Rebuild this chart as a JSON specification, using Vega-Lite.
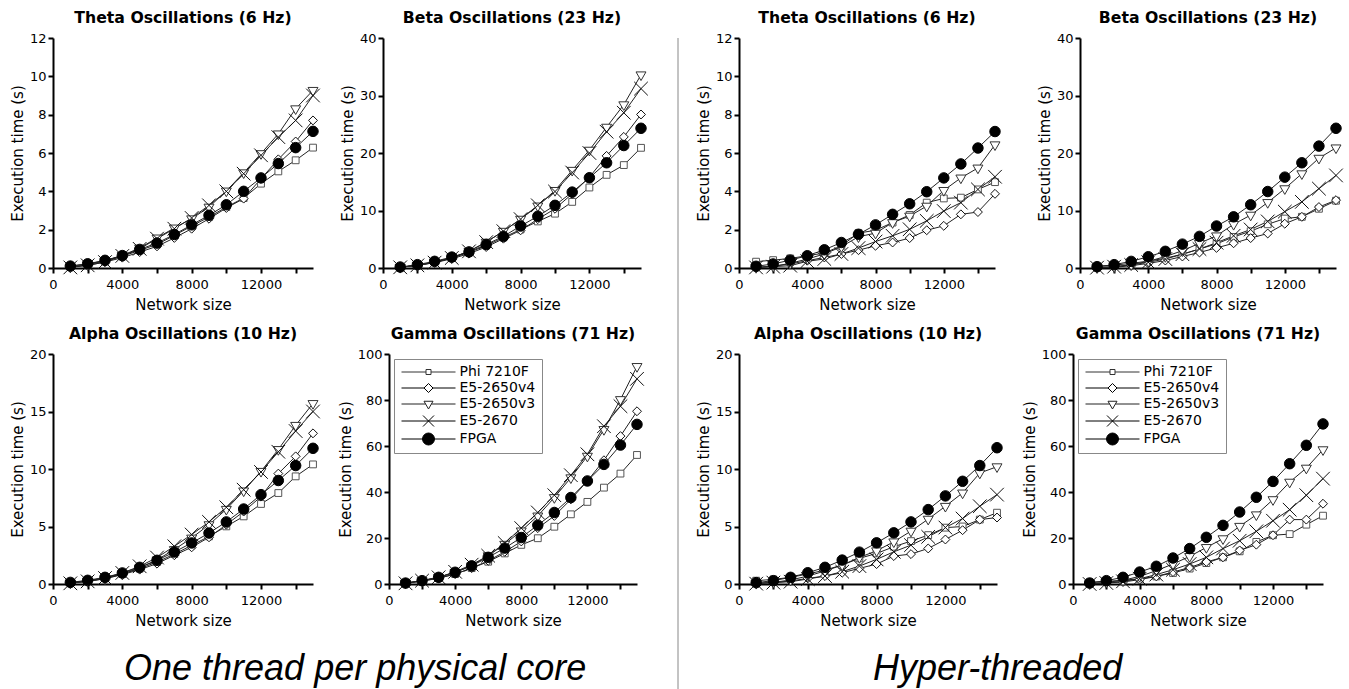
{
 "$schema": "https://vega.github.io/schema/vega-lite/v6.json",
 "padding": {"left": 10, "top": 10, "right": 0, "bottom": 0},
 "background": "white",
 "spacing": 17,
 "config": {
  "font": "DejaVu Sans",
  "view": {"stroke": null},
  "axis": {"domainColor": "black", "domainWidth": 2, "tickColor": "black", "tickWidth": 2, "tickSize": 5, "labelFont": "DejaVu Sans", "labelFontSize": 13, "labelColor": "black", "titleFont": "DejaVu Sans", "titleFontSize": 15, "titleFontWeight": "normal", "titleColor": "black", "grid": false, "labelFlush": false, "labelOverlap": false},
  "axisX": {"labelPadding": 5, "titlePadding": 6},
  "axisY": {"labelPadding": 2, "titlePadding": 4},
  "title": {"font": "DejaVu Sans", "fontSize": 15.7, "fontWeight": "bold", "color": "black", "offset": 5, "anchor": "middle"},
  "style": {"panel": {"font": "DejaVu Sans", "fontSize": 15.7, "fontWeight": "bold", "fill": "black"}}
 },
 "datasets": {
  "series_list": [{"series":"Phi 7210F"},{"series":"E5-2650v4"},{"series":"E5-2650v3"},{"series":"E5-2670"},{"series":"FPGA"}],
  "LT": [
{"series":"Phi 7210F","size":1000,"time":0.1},{"series":"Phi 7210F","size":2000,"time":0.21},{"series":"Phi 7210F","size":3000,"time":0.38},{"series":"Phi 7210F","size":4000,"time":0.61},{"series":"Phi 7210F","size":5000,"time":0.92},{"series":"Phi 7210F","size":6000,"time":1.23},{"series":"Phi 7210F","size":7000,"time":1.7},{"series":"Phi 7210F","size":8000,"time":2.19},{"series":"Phi 7210F","size":9000,"time":2.66},{"series":"Phi 7210F","size":10000,"time":3.18},{"series":"Phi 7210F","size":11000,"time":3.65},{"series":"Phi 7210F","size":12000,"time":4.4},{"series":"Phi 7210F","size":13000,"time":5.04},{"series":"Phi 7210F","size":14000,"time":5.62},{"series":"Phi 7210F","size":15000,"time":6.28},
{"series":"E5-2650v4","size":1000,"time":0.05},{"series":"E5-2650v4","size":2000,"time":0.14},{"series":"E5-2650v4","size":3000,"time":0.31},{"series":"E5-2650v4","size":4000,"time":0.54},{"series":"E5-2650v4","size":5000,"time":0.83},{"series":"E5-2650v4","size":6000,"time":1.13},{"series":"E5-2650v4","size":7000,"time":1.57},{"series":"E5-2650v4","size":8000,"time":2.05},{"series":"E5-2650v4","size":9000,"time":2.57},{"series":"E5-2650v4","size":10000,"time":3.13},{"series":"E5-2650v4","size":11000,"time":3.62},{"series":"E5-2650v4","size":12000,"time":4.66},{"series":"E5-2650v4","size":13000,"time":5.67},{"series":"E5-2650v4","size":14000,"time":6.6},{"series":"E5-2650v4","size":15000,"time":7.7},
{"series":"E5-2650v3","size":1000,"time":0.05},{"series":"E5-2650v3","size":2000,"time":0.17},{"series":"E5-2650v3","size":3000,"time":0.37},{"series":"E5-2650v3","size":4000,"time":0.66},{"series":"E5-2650v3","size":5000,"time":1.04},{"series":"E5-2650v3","size":6000,"time":1.57},{"series":"E5-2650v3","size":7000,"time":2.09},{"series":"E5-2650v3","size":8000,"time":2.57},{"series":"E5-2650v3","size":9000,"time":3.18},{"series":"E5-2650v3","size":10000,"time":4.02},{"series":"E5-2650v3","size":11000,"time":4.97},{"series":"E5-2650v3","size":12000,"time":5.97},{"series":"E5-2650v3","size":13000,"time":7.0},{"series":"E5-2650v3","size":14000,"time":8.31},{"series":"E5-2650v3","size":15000,"time":9.27},
{"series":"E5-2670","size":1000,"time":0.03},{"series":"E5-2670","size":2000,"time":0.14},{"series":"E5-2670","size":3000,"time":0.31},{"series":"E5-2670","size":4000,"time":0.63},{"series":"E5-2670","size":5000,"time":1.0},{"series":"E5-2670","size":6000,"time":1.53},{"series":"E5-2670","size":7000,"time":2.05},{"series":"E5-2670","size":8000,"time":2.61},{"series":"E5-2670","size":9000,"time":3.27},{"series":"E5-2670","size":10000,"time":4.0},{"series":"E5-2670","size":11000,"time":4.92},{"series":"E5-2670","size":12000,"time":5.88},{"series":"E5-2670","size":13000,"time":6.83},{"series":"E5-2670","size":14000,"time":7.7},{"series":"E5-2670","size":15000,"time":9.0},
{"series":"FPGA","size":1000,"time":0.1},{"series":"FPGA","size":2000,"time":0.22},{"series":"FPGA","size":3000,"time":0.4},{"series":"FPGA","size":4000,"time":0.65},{"series":"FPGA","size":5000,"time":0.97},{"series":"FPGA","size":6000,"time":1.3},{"series":"FPGA","size":7000,"time":1.75},{"series":"FPGA","size":8000,"time":2.25},{"series":"FPGA","size":9000,"time":2.75},{"series":"FPGA","size":10000,"time":3.3},{"series":"FPGA","size":11000,"time":4.0},{"series":"FPGA","size":12000,"time":4.7},{"series":"FPGA","size":13000,"time":5.45},{"series":"FPGA","size":14000,"time":6.28},{"series":"FPGA","size":15000,"time":7.13}
  ],
  "LB": [
{"series":"Phi 7210F","size":1000,"time":0.12},{"series":"Phi 7210F","size":2000,"time":0.46},{"series":"Phi 7210F","size":3000,"time":1.04},{"series":"Phi 7210F","size":4000,"time":1.74},{"series":"Phi 7210F","size":5000,"time":2.7},{"series":"Phi 7210F","size":6000,"time":3.9},{"series":"Phi 7210F","size":7000,"time":5.3},{"series":"Phi 7210F","size":8000,"time":6.7},{"series":"Phi 7210F","size":9000,"time":8.1},{"series":"Phi 7210F","size":10000,"time":9.45},{"series":"Phi 7210F","size":11000,"time":11.5},{"series":"Phi 7210F","size":12000,"time":14.0},{"series":"Phi 7210F","size":13000,"time":16.2},{"series":"Phi 7210F","size":14000,"time":17.9},{"series":"Phi 7210F","size":15000,"time":20.9},
{"series":"E5-2650v4","size":1000,"time":0.12},{"series":"E5-2650v4","size":2000,"time":0.46},{"series":"E5-2650v4","size":3000,"time":0.93},{"series":"E5-2650v4","size":4000,"time":1.6},{"series":"E5-2650v4","size":5000,"time":2.5},{"series":"E5-2650v4","size":6000,"time":3.65},{"series":"E5-2650v4","size":7000,"time":5.1},{"series":"E5-2650v4","size":8000,"time":6.55},{"series":"E5-2650v4","size":9000,"time":8.5},{"series":"E5-2650v4","size":10000,"time":10.3},{"series":"E5-2650v4","size":11000,"time":12.9},{"series":"E5-2650v4","size":12000,"time":15.8},{"series":"E5-2650v4","size":13000,"time":19.5},{"series":"E5-2650v4","size":14000,"time":22.8},{"series":"E5-2650v4","size":15000,"time":26.7},
{"series":"E5-2650v3","size":1000,"time":0.12},{"series":"E5-2650v3","size":2000,"time":0.46},{"series":"E5-2650v3","size":3000,"time":1.04},{"series":"E5-2650v3","size":4000,"time":1.8},{"series":"E5-2650v3","size":5000,"time":2.9},{"series":"E5-2650v3","size":6000,"time":4.5},{"series":"E5-2650v3","size":7000,"time":6.4},{"series":"E5-2650v3","size":8000,"time":8.5},{"series":"E5-2650v3","size":9000,"time":10.8},{"series":"E5-2650v3","size":10000,"time":13.5},{"series":"E5-2650v3","size":11000,"time":17.0},{"series":"E5-2650v3","size":12000,"time":20.5},{"series":"E5-2650v3","size":13000,"time":24.5},{"series":"E5-2650v3","size":14000,"time":28.4},{"series":"E5-2650v3","size":15000,"time":33.6},
{"series":"E5-2670","size":1000,"time":0.12},{"series":"E5-2670","size":2000,"time":0.46},{"series":"E5-2670","size":3000,"time":0.93},{"series":"E5-2670","size":4000,"time":1.74},{"series":"E5-2670","size":5000,"time":2.9},{"series":"E5-2670","size":6000,"time":4.5},{"series":"E5-2670","size":7000,"time":6.4},{"series":"E5-2670","size":8000,"time":8.5},{"series":"E5-2670","size":9000,"time":10.9},{"series":"E5-2670","size":10000,"time":13.3},{"series":"E5-2670","size":11000,"time":16.6},{"series":"E5-2670","size":12000,"time":20.0},{"series":"E5-2670","size":13000,"time":23.7},{"series":"E5-2670","size":14000,"time":27.0},{"series":"E5-2670","size":15000,"time":31.2},
{"series":"FPGA","size":1000,"time":0.17},{"series":"FPGA","size":2000,"time":0.58},{"series":"FPGA","size":3000,"time":1.16},{"series":"FPGA","size":4000,"time":1.9},{"series":"FPGA","size":5000,"time":2.8},{"series":"FPGA","size":6000,"time":4.1},{"series":"FPGA","size":7000,"time":5.5},{"series":"FPGA","size":8000,"time":7.3},{"series":"FPGA","size":9000,"time":9.0},{"series":"FPGA","size":10000,"time":10.9},{"series":"FPGA","size":11000,"time":13.2},{"series":"FPGA","size":12000,"time":15.7},{"series":"FPGA","size":13000,"time":18.3},{"series":"FPGA","size":14000,"time":21.3},{"series":"FPGA","size":15000,"time":24.3}
  ],
  "LA": [
{"series":"Phi 7210F","size":1000,"time":0.12},{"series":"Phi 7210F","size":2000,"time":0.29},{"series":"Phi 7210F","size":3000,"time":0.52},{"series":"Phi 7210F","size":4000,"time":0.87},{"series":"Phi 7210F","size":5000,"time":1.33},{"series":"Phi 7210F","size":6000,"time":1.91},{"series":"Phi 7210F","size":7000,"time":2.6},{"series":"Phi 7210F","size":8000,"time":3.36},{"series":"Phi 7210F","size":9000,"time":4.14},{"series":"Phi 7210F","size":10000,"time":5.01},{"series":"Phi 7210F","size":11000,"time":5.88},{"series":"Phi 7210F","size":12000,"time":6.96},{"series":"Phi 7210F","size":13000,"time":7.91},{"series":"Phi 7210F","size":14000,"time":9.36},{"series":"Phi 7210F","size":15000,"time":10.4},
{"series":"E5-2650v4","size":1000,"time":0.09},{"series":"E5-2650v4","size":2000,"time":0.23},{"series":"E5-2650v4","size":3000,"time":0.46},{"series":"E5-2650v4","size":4000,"time":0.81},{"series":"E5-2650v4","size":5000,"time":1.25},{"series":"E5-2650v4","size":6000,"time":1.77},{"series":"E5-2650v4","size":7000,"time":2.5},{"series":"E5-2650v4","size":8000,"time":3.19},{"series":"E5-2650v4","size":9000,"time":4.06},{"series":"E5-2650v4","size":10000,"time":5.16},{"series":"E5-2650v4","size":11000,"time":6.3},{"series":"E5-2650v4","size":12000,"time":7.6},{"series":"E5-2650v4","size":13000,"time":9.6},{"series":"E5-2650v4","size":14000,"time":11.1},{"series":"E5-2650v4","size":15000,"time":13.1},
{"series":"E5-2650v3","size":1000,"time":0.09},{"series":"E5-2650v3","size":2000,"time":0.23},{"series":"E5-2650v3","size":3000,"time":0.46},{"series":"E5-2650v3","size":4000,"time":0.87},{"series":"E5-2650v3","size":5000,"time":1.4},{"series":"E5-2650v3","size":6000,"time":2.1},{"series":"E5-2650v3","size":7000,"time":3.0},{"series":"E5-2650v3","size":8000,"time":4.0},{"series":"E5-2650v3","size":9000,"time":5.16},{"series":"E5-2650v3","size":10000,"time":6.5},{"series":"E5-2650v3","size":11000,"time":8.1},{"series":"E5-2650v3","size":12000,"time":9.8},{"series":"E5-2650v3","size":13000,"time":11.7},{"series":"E5-2650v3","size":14000,"time":13.8},{"series":"E5-2650v3","size":15000,"time":15.7},
{"series":"E5-2670","size":1000,"time":0.06},{"series":"E5-2670","size":2000,"time":0.23},{"series":"E5-2670","size":3000,"time":0.52},{"series":"E5-2670","size":4000,"time":0.96},{"series":"E5-2670","size":5000,"time":1.54},{"series":"E5-2670","size":6000,"time":2.3},{"series":"E5-2670","size":7000,"time":3.28},{"series":"E5-2670","size":8000,"time":4.3},{"series":"E5-2670","size":9000,"time":5.4},{"series":"E5-2670","size":10000,"time":6.67},{"series":"E5-2670","size":11000,"time":8.2},{"series":"E5-2670","size":12000,"time":9.74},{"series":"E5-2670","size":13000,"time":11.5},{"series":"E5-2670","size":14000,"time":13.3},{"series":"E5-2670","size":15000,"time":15.0},
{"series":"FPGA","size":1000,"time":0.14},{"series":"FPGA","size":2000,"time":0.32},{"series":"FPGA","size":3000,"time":0.58},{"series":"FPGA","size":4000,"time":0.96},{"series":"FPGA","size":5000,"time":1.45},{"series":"FPGA","size":6000,"time":2.06},{"series":"FPGA","size":7000,"time":2.78},{"series":"FPGA","size":8000,"time":3.57},{"series":"FPGA","size":9000,"time":4.43},{"series":"FPGA","size":10000,"time":5.4},{"series":"FPGA","size":11000,"time":6.52},{"series":"FPGA","size":12000,"time":7.77},{"series":"FPGA","size":13000,"time":9.0},{"series":"FPGA","size":14000,"time":10.3},{"series":"FPGA","size":15000,"time":11.8}
  ],
  "LG": [
{"series":"Phi 7210F","size":1000,"time":0.4},{"series":"Phi 7210F","size":2000,"time":1.3},{"series":"Phi 7210F","size":3000,"time":2.6},{"series":"Phi 7210F","size":4000,"time":4.3},{"series":"Phi 7210F","size":5000,"time":6.9},{"series":"Phi 7210F","size":6000,"time":9.7},{"series":"Phi 7210F","size":7000,"time":13.3},{"series":"Phi 7210F","size":8000,"time":17.0},{"series":"Phi 7210F","size":9000,"time":19.9},{"series":"Phi 7210F","size":10000,"time":24.9},{"series":"Phi 7210F","size":11000,"time":30.3},{"series":"Phi 7210F","size":12000,"time":35.7},{"series":"Phi 7210F","size":13000,"time":41.9},{"series":"Phi 7210F","size":14000,"time":48.0},{"series":"Phi 7210F","size":15000,"time":56.1},
{"series":"E5-2650v4","size":1000,"time":0.4},{"series":"E5-2650v4","size":2000,"time":1.2},{"series":"E5-2650v4","size":3000,"time":2.5},{"series":"E5-2650v4","size":4000,"time":4.3},{"series":"E5-2650v4","size":5000,"time":6.9},{"series":"E5-2650v4","size":6000,"time":10.1},{"series":"E5-2650v4","size":7000,"time":14.0},{"series":"E5-2650v4","size":8000,"time":18.5},{"series":"E5-2650v4","size":9000,"time":24.3},{"series":"E5-2650v4","size":10000,"time":29.6},{"series":"E5-2650v4","size":11000,"time":36.8},{"series":"E5-2650v4","size":12000,"time":44.8},{"series":"E5-2650v4","size":13000,"time":53.8},{"series":"E5-2650v4","size":14000,"time":64.3},{"series":"E5-2650v4","size":15000,"time":75.1},
{"series":"E5-2650v3","size":1000,"time":0.4},{"series":"E5-2650v3","size":2000,"time":1.45},{"series":"E5-2650v3","size":3000,"time":2.9},{"series":"E5-2650v3","size":4000,"time":5.1},{"series":"E5-2650v3","size":5000,"time":7.9},{"series":"E5-2650v3","size":6000,"time":12.3},{"series":"E5-2650v3","size":7000,"time":17.3},{"series":"E5-2650v3","size":8000,"time":23.1},{"series":"E5-2650v3","size":9000,"time":29.6},{"series":"E5-2650v3","size":10000,"time":37.6},{"series":"E5-2650v3","size":11000,"time":46.2},{"series":"E5-2650v3","size":12000,"time":55.6},{"series":"E5-2650v3","size":13000,"time":67.2},{"series":"E5-2650v3","size":14000,"time":80.2},{"series":"E5-2650v3","size":15000,"time":94.6},
{"series":"E5-2670","size":1000,"time":0.3},{"series":"E5-2670","size":2000,"time":1.45},{"series":"E5-2670","size":3000,"time":2.9},{"series":"E5-2670","size":4000,"time":5.3},{"series":"E5-2670","size":5000,"time":8.4},{"series":"E5-2670","size":6000,"time":12.3},{"series":"E5-2670","size":7000,"time":17.8},{"series":"E5-2670","size":8000,"time":24.3},{"series":"E5-2670","size":9000,"time":31.1},{"series":"E5-2670","size":10000,"time":38.6},{"series":"E5-2670","size":11000,"time":47.3},{"series":"E5-2670","size":12000,"time":56.4},{"series":"E5-2670","size":13000,"time":68.6},{"series":"E5-2670","size":14000,"time":77.3},{"series":"E5-2670","size":15000,"time":89.2},
{"series":"FPGA","size":1000,"time":0.4},{"series":"FPGA","size":2000,"time":1.45},{"series":"FPGA","size":3000,"time":2.9},{"series":"FPGA","size":4000,"time":5.1},{"series":"FPGA","size":5000,"time":7.9},{"series":"FPGA","size":6000,"time":11.6},{"series":"FPGA","size":7000,"time":15.6},{"series":"FPGA","size":8000,"time":20.2},{"series":"FPGA","size":9000,"time":25.6},{"series":"FPGA","size":10000,"time":31.1},{"series":"FPGA","size":11000,"time":37.6},{"series":"FPGA","size":12000,"time":44.8},{"series":"FPGA","size":13000,"time":52.0},{"series":"FPGA","size":14000,"time":60.4},{"series":"FPGA","size":15000,"time":69.4}
  ],
  "RT": [
{"series":"Phi 7210F","size":1000,"time":0.33},{"series":"Phi 7210F","size":2000,"time":0.41},{"series":"Phi 7210F","size":3000,"time":0.5},{"series":"Phi 7210F","size":4000,"time":0.64},{"series":"Phi 7210F","size":5000,"time":0.78},{"series":"Phi 7210F","size":6000,"time":1.16},{"series":"Phi 7210F","size":7000,"time":1.82},{"series":"Phi 7210F","size":8000,"time":1.97},{"series":"Phi 7210F","size":9000,"time":2.37},{"series":"Phi 7210F","size":10000,"time":2.77},{"series":"Phi 7210F","size":11000,"time":3.41},{"series":"Phi 7210F","size":12000,"time":3.63},{"series":"Phi 7210F","size":13000,"time":3.67},{"series":"Phi 7210F","size":14000,"time":4.1},{"series":"Phi 7210F","size":15000,"time":4.48},
{"series":"E5-2650v4","size":1000,"time":0.03},{"series":"E5-2650v4","size":2000,"time":0.09},{"series":"E5-2650v4","size":3000,"time":0.21},{"series":"E5-2650v4","size":4000,"time":0.38},{"series":"E5-2650v4","size":5000,"time":0.55},{"series":"E5-2650v4","size":6000,"time":0.73},{"series":"E5-2650v4","size":7000,"time":0.93},{"series":"E5-2650v4","size":8000,"time":1.16},{"series":"E5-2650v4","size":9000,"time":1.33},{"series":"E5-2650v4","size":10000,"time":1.56},{"series":"E5-2650v4","size":11000,"time":1.97},{"series":"E5-2650v4","size":12000,"time":2.2},{"series":"E5-2650v4","size":13000,"time":2.8},{"series":"E5-2650v4","size":14000,"time":2.92},{"series":"E5-2650v4","size":15000,"time":3.87},
{"series":"E5-2650v3","size":1000,"time":0.03},{"series":"E5-2650v3","size":2000,"time":0.09},{"series":"E5-2650v3","size":3000,"time":0.24},{"series":"E5-2650v3","size":4000,"time":0.47},{"series":"E5-2650v3","size":5000,"time":0.73},{"series":"E5-2650v3","size":6000,"time":1.11},{"series":"E5-2650v3","size":7000,"time":1.63},{"series":"E5-2650v3","size":8000,"time":1.82},{"series":"E5-2650v3","size":9000,"time":2.37},{"series":"E5-2650v3","size":10000,"time":2.71},{"series":"E5-2650v3","size":11000,"time":3.23},{"series":"E5-2650v3","size":12000,"time":4.05},{"series":"E5-2650v3","size":13000,"time":4.7},{"series":"E5-2650v3","size":14000,"time":5.22},{"series":"E5-2650v3","size":15000,"time":6.43},
{"series":"E5-2670","size":1000,"time":0.03},{"series":"E5-2670","size":2000,"time":0.07},{"series":"E5-2670","size":3000,"time":0.12},{"series":"E5-2670","size":4000,"time":0.35},{"series":"E5-2670","size":5000,"time":0.47},{"series":"E5-2670","size":6000,"time":0.73},{"series":"E5-2670","size":7000,"time":1.04},{"series":"E5-2670","size":8000,"time":1.38},{"series":"E5-2670","size":9000,"time":1.68},{"series":"E5-2670","size":10000,"time":2.02},{"series":"E5-2670","size":11000,"time":2.46},{"series":"E5-2670","size":12000,"time":2.97},{"series":"E5-2670","size":13000,"time":3.41},{"series":"E5-2670","size":14000,"time":4.1},{"series":"E5-2670","size":15000,"time":4.76},
{"series":"FPGA","size":1000,"time":0.09},{"series":"FPGA","size":2000,"time":0.21},{"series":"FPGA","size":3000,"time":0.41},{"series":"FPGA","size":4000,"time":0.64},{"series":"FPGA","size":5000,"time":0.95},{"series":"FPGA","size":6000,"time":1.33},{"series":"FPGA","size":7000,"time":1.76},{"series":"FPGA","size":8000,"time":2.25},{"series":"FPGA","size":9000,"time":2.8},{"series":"FPGA","size":10000,"time":3.35},{"series":"FPGA","size":11000,"time":3.98},{"series":"FPGA","size":12000,"time":4.7},{"series":"FPGA","size":13000,"time":5.43},{"series":"FPGA","size":14000,"time":6.26},{"series":"FPGA","size":15000,"time":7.12}
  ],
  "RB": [
{"series":"Phi 7210F","size":1000,"time":0.3},{"series":"Phi 7210F","size":2000,"time":0.5},{"series":"Phi 7210F","size":3000,"time":0.8},{"series":"Phi 7210F","size":4000,"time":1.2},{"series":"Phi 7210F","size":5000,"time":1.7},{"series":"Phi 7210F","size":6000,"time":2.4},{"series":"Phi 7210F","size":7000,"time":3.3},{"series":"Phi 7210F","size":8000,"time":4.2},{"series":"Phi 7210F","size":9000,"time":5.4},{"series":"Phi 7210F","size":10000,"time":6.4},{"series":"Phi 7210F","size":11000,"time":7.6},{"series":"Phi 7210F","size":12000,"time":8.6},{"series":"Phi 7210F","size":13000,"time":8.9},{"series":"Phi 7210F","size":14000,"time":10.3},{"series":"Phi 7210F","size":15000,"time":11.7},
{"series":"E5-2650v4","size":1000,"time":0.02},{"series":"E5-2650v4","size":2000,"time":0.12},{"series":"E5-2650v4","size":3000,"time":0.4},{"series":"E5-2650v4","size":4000,"time":0.8},{"series":"E5-2650v4","size":5000,"time":1.3},{"series":"E5-2650v4","size":6000,"time":2.0},{"series":"E5-2650v4","size":7000,"time":2.7},{"series":"E5-2650v4","size":8000,"time":3.5},{"series":"E5-2650v4","size":9000,"time":4.3},{"series":"E5-2650v4","size":10000,"time":5.2},{"series":"E5-2650v4","size":11000,"time":6.0},{"series":"E5-2650v4","size":12000,"time":7.7},{"series":"E5-2650v4","size":13000,"time":8.9},{"series":"E5-2650v4","size":14000,"time":10.6},{"series":"E5-2650v4","size":15000,"time":11.8},
{"series":"E5-2650v3","size":1000,"time":0.06},{"series":"E5-2650v3","size":2000,"time":0.23},{"series":"E5-2650v3","size":3000,"time":0.58},{"series":"E5-2650v3","size":4000,"time":1.15},{"series":"E5-2650v3","size":5000,"time":2.0},{"series":"E5-2650v3","size":6000,"time":3.0},{"series":"E5-2650v3","size":7000,"time":4.3},{"series":"E5-2650v3","size":8000,"time":5.6},{"series":"E5-2650v3","size":9000,"time":7.6},{"series":"E5-2650v3","size":10000,"time":9.2},{"series":"E5-2650v3","size":11000,"time":11.4},{"series":"E5-2650v3","size":12000,"time":13.8},{"series":"E5-2650v3","size":13000,"time":16.4},{"series":"E5-2650v3","size":14000,"time":19.1},{"series":"E5-2650v3","size":15000,"time":20.9},
{"series":"E5-2670","size":1000,"time":0.06},{"series":"E5-2670","size":2000,"time":0.23},{"series":"E5-2670","size":3000,"time":0.52},{"series":"E5-2670","size":4000,"time":1.0},{"series":"E5-2670","size":5000,"time":1.56},{"series":"E5-2670","size":6000,"time":2.4},{"series":"E5-2670","size":7000,"time":3.3},{"series":"E5-2670","size":8000,"time":4.4},{"series":"E5-2670","size":9000,"time":5.6},{"series":"E5-2670","size":10000,"time":6.7},{"series":"E5-2670","size":11000,"time":8.1},{"series":"E5-2670","size":12000,"time":9.8},{"series":"E5-2670","size":13000,"time":11.5},{"series":"E5-2670","size":14000,"time":13.8},{"series":"E5-2670","size":15000,"time":16.1},
{"series":"FPGA","size":1000,"time":0.23},{"series":"FPGA","size":2000,"time":0.58},{"series":"FPGA","size":3000,"time":1.15},{"series":"FPGA","size":4000,"time":1.96},{"series":"FPGA","size":5000,"time":2.9},{"series":"FPGA","size":6000,"time":4.15},{"series":"FPGA","size":7000,"time":5.5},{"series":"FPGA","size":8000,"time":7.3},{"series":"FPGA","size":9000,"time":8.9},{"series":"FPGA","size":10000,"time":11.0},{"series":"FPGA","size":11000,"time":13.3},{"series":"FPGA","size":12000,"time":15.8},{"series":"FPGA","size":13000,"time":18.3},{"series":"FPGA","size":14000,"time":21.2},{"series":"FPGA","size":15000,"time":24.3}
  ],
  "RA": [
{"series":"Phi 7210F","size":1000,"time":0.29},{"series":"Phi 7210F","size":2000,"time":0.4},{"series":"Phi 7210F","size":3000,"time":0.58},{"series":"Phi 7210F","size":4000,"time":0.87},{"series":"Phi 7210F","size":5000,"time":1.21},{"series":"Phi 7210F","size":6000,"time":1.65},{"series":"Phi 7210F","size":7000,"time":2.23},{"series":"Phi 7210F","size":8000,"time":2.66},{"series":"Phi 7210F","size":9000,"time":3.24},{"series":"Phi 7210F","size":10000,"time":3.73},{"series":"Phi 7210F","size":11000,"time":4.25},{"series":"Phi 7210F","size":12000,"time":4.9},{"series":"Phi 7210F","size":13000,"time":5.0},{"series":"Phi 7210F","size":14000,"time":5.6},{"series":"Phi 7210F","size":15000,"time":6.2},
{"series":"E5-2650v4","size":1000,"time":0.06},{"series":"E5-2650v4","size":2000,"time":0.12},{"series":"E5-2650v4","size":3000,"time":0.26},{"series":"E5-2650v4","size":4000,"time":0.49},{"series":"E5-2650v4","size":5000,"time":0.69},{"series":"E5-2650v4","size":6000,"time":0.98},{"series":"E5-2650v4","size":7000,"time":1.36},{"series":"E5-2650v4","size":8000,"time":1.73},{"series":"E5-2650v4","size":9000,"time":2.43},{"series":"E5-2650v4","size":10000,"time":2.6},{"series":"E5-2650v4","size":11000,"time":3.09},{"series":"E5-2650v4","size":12000,"time":3.87},{"series":"E5-2650v4","size":13000,"time":4.68},{"series":"E5-2650v4","size":14000,"time":5.6},{"series":"E5-2650v4","size":15000,"time":5.78},
{"series":"E5-2650v3","size":1000,"time":0.06},{"series":"E5-2650v3","size":2000,"time":0.14},{"series":"E5-2650v3","size":3000,"time":0.35},{"series":"E5-2650v3","size":4000,"time":0.69},{"series":"E5-2650v3","size":5000,"time":1.13},{"series":"E5-2650v3","size":6000,"time":1.65},{"series":"E5-2650v3","size":7000,"time":2.31},{"series":"E5-2650v3","size":8000,"time":2.89},{"series":"E5-2650v3","size":9000,"time":3.67},{"series":"E5-2650v3","size":10000,"time":4.6},{"series":"E5-2650v3","size":11000,"time":5.64},{"series":"E5-2650v3","size":12000,"time":6.76},{"series":"E5-2650v3","size":13000,"time":7.92},{"series":"E5-2650v3","size":14000,"time":9.65},{"series":"E5-2650v3","size":15000,"time":10.2},
{"series":"E5-2670","size":1000,"time":0.03},{"series":"E5-2670","size":2000,"time":0.12},{"series":"E5-2670","size":3000,"time":0.2},{"series":"E5-2670","size":4000,"time":0.43},{"series":"E5-2670","size":5000,"time":0.69},{"series":"E5-2670","size":6000,"time":1.07},{"series":"E5-2670","size":7000,"time":1.56},{"series":"E5-2670","size":8000,"time":2.14},{"series":"E5-2670","size":9000,"time":2.8},{"series":"E5-2670","size":10000,"time":3.38},{"series":"E5-2670","size":11000,"time":4.1},{"series":"E5-2670","size":12000,"time":4.91},{"series":"E5-2670","size":13000,"time":5.69},{"series":"E5-2670","size":14000,"time":6.76},{"series":"E5-2670","size":15000,"time":7.77},
{"series":"FPGA","size":1000,"time":0.12},{"series":"FPGA","size":2000,"time":0.29},{"series":"FPGA","size":3000,"time":0.58},{"series":"FPGA","size":4000,"time":0.98},{"series":"FPGA","size":5000,"time":1.45},{"series":"FPGA","size":6000,"time":2.08},{"series":"FPGA","size":7000,"time":2.77},{"series":"FPGA","size":8000,"time":3.58},{"series":"FPGA","size":9000,"time":4.45},{"series":"FPGA","size":10000,"time":5.4},{"series":"FPGA","size":11000,"time":6.47},{"series":"FPGA","size":12000,"time":7.66},{"series":"FPGA","size":13000,"time":8.93},{"series":"FPGA","size":14000,"time":10.3},{"series":"FPGA","size":15000,"time":11.85}
  ],
  "RG": [
{"series":"Phi 7210F","size":1000,"time":0.72},{"series":"Phi 7210F","size":2000,"time":1.16},{"series":"Phi 7210F","size":3000,"time":1.6},{"series":"Phi 7210F","size":4000,"time":2.3},{"series":"Phi 7210F","size":5000,"time":3.3},{"series":"Phi 7210F","size":6000,"time":4.8},{"series":"Phi 7210F","size":7000,"time":6.7},{"series":"Phi 7210F","size":8000,"time":9.1},{"series":"Phi 7210F","size":9000,"time":11.6},{"series":"Phi 7210F","size":10000,"time":14.2},{"series":"Phi 7210F","size":11000,"time":18.3},{"series":"Phi 7210F","size":12000,"time":21.2},{"series":"Phi 7210F","size":13000,"time":21.7},{"series":"Phi 7210F","size":14000,"time":25.8},{"series":"Phi 7210F","size":15000,"time":29.7},
{"series":"E5-2650v4","size":1000,"time":0.14},{"series":"E5-2650v4","size":2000,"time":0.43},{"series":"E5-2650v4","size":3000,"time":0.87},{"series":"E5-2650v4","size":4000,"time":1.9},{"series":"E5-2650v4","size":5000,"time":3.3},{"series":"E5-2650v4","size":6000,"time":5.2},{"series":"E5-2650v4","size":7000,"time":7.2},{"series":"E5-2650v4","size":8000,"time":9.6},{"series":"E5-2650v4","size":9000,"time":11.6},{"series":"E5-2650v4","size":10000,"time":14.6},{"series":"E5-2650v4","size":11000,"time":17.1},{"series":"E5-2650v4","size":12000,"time":21.2},{"series":"E5-2650v4","size":13000,"time":28.0},{"series":"E5-2650v4","size":14000,"time":28.0},{"series":"E5-2650v4","size":15000,"time":34.9},
{"series":"E5-2650v3","size":1000,"time":0.14},{"series":"E5-2650v3","size":2000,"time":0.72},{"series":"E5-2650v3","size":3000,"time":1.6},{"series":"E5-2650v3","size":4000,"time":3.3},{"series":"E5-2650v3","size":5000,"time":5.8},{"series":"E5-2650v3","size":6000,"time":8.7},{"series":"E5-2650v3","size":7000,"time":12.0},{"series":"E5-2650v3","size":8000,"time":15.9},{"series":"E5-2650v3","size":9000,"time":19.7},{"series":"E5-2650v3","size":10000,"time":25.1},{"series":"E5-2650v3","size":11000,"time":30.1},{"series":"E5-2650v3","size":12000,"time":36.7},{"series":"E5-2650v3","size":13000,"time":44.3},{"series":"E5-2650v3","size":14000,"time":50.4},{"series":"E5-2650v3","size":15000,"time":58.4},
{"series":"E5-2670","size":1000,"time":0.0},{"series":"E5-2670","size":2000,"time":0.43},{"series":"E5-2670","size":3000,"time":1.16},{"series":"E5-2670","size":4000,"time":2.3},{"series":"E5-2670","size":5000,"time":4.1},{"series":"E5-2670","size":6000,"time":6.2},{"series":"E5-2670","size":7000,"time":8.7},{"series":"E5-2670","size":8000,"time":11.6},{"series":"E5-2670","size":9000,"time":15.4},{"series":"E5-2670","size":10000,"time":18.8},{"series":"E5-2670","size":11000,"time":22.9},{"series":"E5-2670","size":12000,"time":27.5},{"series":"E5-2670","size":13000,"time":32.3},{"series":"E5-2670","size":14000,"time":38.6},{"series":"E5-2670","size":15000,"time":45.8},
{"series":"FPGA","size":1000,"time":0.43},{"series":"FPGA","size":2000,"time":1.45},{"series":"FPGA","size":3000,"time":2.9},{"series":"FPGA","size":4000,"time":5.2},{"series":"FPGA","size":5000,"time":7.7},{"series":"FPGA","size":6000,"time":11.3},{"series":"FPGA","size":7000,"time":15.4},{"series":"FPGA","size":8000,"time":20.3},{"series":"FPGA","size":9000,"time":25.5},{"series":"FPGA","size":10000,"time":31.3},{"series":"FPGA","size":11000,"time":37.7},{"series":"FPGA","size":12000,"time":44.6},{"series":"FPGA","size":13000,"time":52.3},{"series":"FPGA","size":14000,"time":60.3},{"series":"FPGA","size":15000,"time":69.6}
  ]
 },
 "hconcat": [
  {
   "spacing": 14,
   "title": {"text": "One thread per physical core", "orient": "bottom", "font": "Liberation Sans", "fontSize": 36, "fontStyle": "italic", "fontWeight": "normal", "anchor": "middle", "dx": 25, "offset": 24},
   "vconcat": [
    {"spacing": 18, "hconcat": [
     {"width": 260, "height": 230, "title": {"text": "Theta Oscillations (6 Hz)", "style": "panel", "offset": 5}, "data": {"name": "LT"},
      "encoding": {
       "x": {"field": "size", "type": "quantitative", "scale": {"domain": [0, 15000], "nice": false}, "axis": {"values": [0,2000,4000,6000,8000,10000,12000,14000], "format": "d", "labelExpr": "datum.value % 4000 === 0 ? datum.label : ''", "title": "Network size"}},
       "y": {"field": "time", "type": "quantitative", "scale": {"domain": [0, 12], "nice": false}, "axis": {"values": [0,2,4,6,8,10,12], "title": "Execution time (s)"}}
      },
      "layer": [
       {"mark": {"type": "line", "color": "#222", "strokeWidth": 1}, "encoding": {"detail": {"field": "series", "type": "nominal"}}},
       {"mark": {"type": "point", "filled": true, "opacity": 1, "size": 110, "strokeWidth": 1},
        "encoding": {
         "shape": {"field": "series", "type": "nominal", "scale": {"domain": ["Phi 7210F","E5-2650v4","E5-2650v3","E5-2670","FPGA"], "range": ["M-0.65,-0.65H0.65V0.65H-0.65Z","M0,-0.85L0.85,0L0,0.85L-0.85,0Z","M-0.95,-0.55L0.95,-0.55L0,1.1Z","M-1.3,-1.3L1.3,1.3M-1.3,1.3L1.3,-1.3","circle"]}, "legend": null},
         "fill": {"field": "series", "type": "nominal", "scale": {"domain": ["Phi 7210F","E5-2650v4","E5-2650v3","E5-2670","FPGA"], "range": ["white","white","white","white","black"]}, "legend": null},
         "stroke": {"field": "series", "type": "nominal", "scale": {"domain": ["Phi 7210F","E5-2650v4","E5-2650v3","E5-2670","FPGA"], "range": ["#555","#111","#333","#111","black"]}, "legend": null}
        }}
      ]},
     {"width": 258, "height": 230, "title": {"text": "Beta Oscillations (23 Hz)", "style": "panel", "offset": 5}, "data": {"name": "LB"},
      "encoding": {
       "x": {"field": "size", "type": "quantitative", "scale": {"domain": [0, 15000], "nice": false}, "axis": {"values": [0,2000,4000,6000,8000,10000,12000,14000], "format": "d", "labelExpr": "datum.value % 4000 === 0 ? datum.label : ''", "title": "Network size"}},
       "y": {"field": "time", "type": "quantitative", "scale": {"domain": [0, 40], "nice": false}, "axis": {"values": [0,10,20,30,40], "title": "Execution time (s)"}}
      },
      "layer": [
       {"mark": {"type": "line", "color": "#222", "strokeWidth": 1}, "encoding": {"detail": {"field": "series", "type": "nominal"}}},
       {"mark": {"type": "point", "filled": true, "opacity": 1, "size": 110, "strokeWidth": 1},
        "encoding": {
         "shape": {"field": "series", "type": "nominal", "scale": {"domain": ["Phi 7210F","E5-2650v4","E5-2650v3","E5-2670","FPGA"], "range": ["M-0.65,-0.65H0.65V0.65H-0.65Z","M0,-0.85L0.85,0L0,0.85L-0.85,0Z","M-0.95,-0.55L0.95,-0.55L0,1.1Z","M-1.3,-1.3L1.3,1.3M-1.3,1.3L1.3,-1.3","circle"]}, "legend": null},
         "fill": {"field": "series", "type": "nominal", "scale": {"domain": ["Phi 7210F","E5-2650v4","E5-2650v3","E5-2670","FPGA"], "range": ["white","white","white","white","black"]}, "legend": null},
         "stroke": {"field": "series", "type": "nominal", "scale": {"domain": ["Phi 7210F","E5-2650v4","E5-2650v3","E5-2670","FPGA"], "range": ["#555","#111","#333","#111","black"]}, "legend": null}
        }}
      ]}
    ]},
    {"spacing": 16, "hconcat": [
     {"width": 260, "height": 230, "title": {"text": "Alpha Oscillations (10 Hz)", "style": "panel", "offset": 5}, "data": {"name": "LA"},
      "encoding": {
       "x": {"field": "size", "type": "quantitative", "scale": {"domain": [0, 15000], "nice": false}, "axis": {"values": [0,2000,4000,6000,8000,10000,12000,14000], "format": "d", "labelExpr": "datum.value % 4000 === 0 ? datum.label : ''", "title": "Network size"}},
       "y": {"field": "time", "type": "quantitative", "scale": {"domain": [0, 20], "nice": false}, "axis": {"values": [0,5,10,15,20], "title": "Execution time (s)"}}
      },
      "layer": [
       {"mark": {"type": "line", "color": "#222", "strokeWidth": 1}, "encoding": {"detail": {"field": "series", "type": "nominal"}}},
       {"mark": {"type": "point", "filled": true, "opacity": 1, "size": 110, "strokeWidth": 1},
        "encoding": {
         "shape": {"field": "series", "type": "nominal", "scale": {"domain": ["Phi 7210F","E5-2650v4","E5-2650v3","E5-2670","FPGA"], "range": ["M-0.65,-0.65H0.65V0.65H-0.65Z","M0,-0.85L0.85,0L0,0.85L-0.85,0Z","M-0.95,-0.55L0.95,-0.55L0,1.1Z","M-1.3,-1.3L1.3,1.3M-1.3,1.3L1.3,-1.3","circle"]}, "legend": null},
         "fill": {"field": "series", "type": "nominal", "scale": {"domain": ["Phi 7210F","E5-2650v4","E5-2650v3","E5-2670","FPGA"], "range": ["white","white","white","white","black"]}, "legend": null},
         "stroke": {"field": "series", "type": "nominal", "scale": {"domain": ["Phi 7210F","E5-2650v4","E5-2650v3","E5-2670","FPGA"], "range": ["#555","#111","#333","#111","black"]}, "legend": null}
        }}
      ]},
     {"width": 248, "height": 230, "title": {"text": "Gamma Oscillations (71 Hz)", "style": "panel", "offset": 5},
      "encoding": {
       "x": {"field": "size", "type": "quantitative", "scale": {"domain": [0, 15000], "nice": false}, "axis": {"values": [0,2000,4000,6000,8000,10000,12000,14000], "format": "d", "labelExpr": "datum.value % 4000 === 0 ? datum.label : ''", "title": "Network size"}},
       "y": {"field": "time", "type": "quantitative", "scale": {"domain": [0, 100], "nice": false}, "axis": {"values": [0,20,40,60,80,100], "title": "Execution time (s)"}}
      },
      "resolve": {"scale": {"shape": "independent", "fill": "independent", "stroke": "independent"}},
      "layer": [
       {"data": {"name": "LG"}, "mark": {"type": "line", "color": "#222", "strokeWidth": 1}, "encoding": {"detail": {"field": "series", "type": "nominal"}}},
       {"data": {"name": "LG"}, "mark": {"type": "point", "filled": true, "opacity": 1, "size": 110, "strokeWidth": 1},
        "encoding": {
         "shape": {"field": "series", "type": "nominal", "scale": {"domain": ["Phi 7210F","E5-2650v4","E5-2650v3","E5-2670","FPGA"], "range": ["M-0.65,-0.65H0.65V0.65H-0.65Z","M0,-0.85L0.85,0L0,0.85L-0.85,0Z","M-0.95,-0.55L0.95,-0.55L0,1.1Z","M-1.3,-1.3L1.3,1.3M-1.3,1.3L1.3,-1.3","circle"]}, "legend": null},
         "fill": {"field": "series", "type": "nominal", "scale": {"domain": ["Phi 7210F","E5-2650v4","E5-2650v3","E5-2670","FPGA"], "range": ["white","white","white","white","black"]}, "legend": null},
         "stroke": {"field": "series", "type": "nominal", "scale": {"domain": ["Phi 7210F","E5-2650v4","E5-2650v3","E5-2670","FPGA"], "range": ["#555","#111","#333","#111","black"]}, "legend": null}
        }},
       {"data": {"name": "series_list"}, "transform": [{"filter": "false"}],
        "mark": {"type": "point", "filled": true, "opacity": 1, "size": 100, "strokeWidth": 1},
        "encoding": {
         "x": {"value": 0}, "y": {"value": 0},
         "shape": {"field": "series", "type": "nominal", "scale": {"domain": ["Phi 7210F","E5-2650v4","E5-2650v3","E5-2670","FPGA"], "range": ["M-5.4,0H-0.5M0.5,0H5.4M-0.5,-0.5H0.5V0.5H-0.5Z","M-5.4,0H-0.9M0.9,0H5.4M0,-0.9L0.9,0L0,0.9L-0.9,0Z","M-5.4,0H-0.58M0.58,0H5.4M-0.9,-0.55L0.9,-0.55L0,1Z","M-5.4,0H5.4M-1.1,-1.1L1.1,1.1M-1.1,1.1L1.1,-1.1","M-5.4,0H5.4M1.2,0L1.109,0.459L0.849,0.849L0.459,1.109L0,1.2L-0.459,1.109L-0.849,0.849L-1.109,0.459L-1.2,0L-1.109,-0.459L-0.849,-0.849L-0.459,-1.109L0,-1.2L0.459,-1.109L0.849,-0.849L1.109,-0.459Z"]},
                   "legend": {"title": null, "orient": "top-left", "offset": 5, "padding": 6, "strokeColor": "#888", "fillColor": "white", "symbolSize": 100, "symbolStrokeWidth": 1, "symbolOpacity": 1, "symbolOffset": 21.5, "labelOffset": 24, "labelFont": "DejaVu Sans", "labelFontSize": 14, "labelColor": "black", "rowPadding": 2}},
         "fill": {"field": "series", "type": "nominal", "scale": {"domain": ["Phi 7210F","E5-2650v4","E5-2650v3","E5-2670","FPGA"], "range": ["white","white","white","white","black"]},
                   "legend": {"title": null, "orient": "top-left", "offset": 5, "padding": 6, "strokeColor": "#888", "fillColor": "white", "symbolSize": 100, "symbolStrokeWidth": 1, "symbolOpacity": 1, "symbolOffset": 21.5, "labelOffset": 24, "labelFont": "DejaVu Sans", "labelFontSize": 14, "labelColor": "black", "rowPadding": 2}},
         "stroke": {"field": "series", "type": "nominal", "scale": {"domain": ["Phi 7210F","E5-2650v4","E5-2650v3","E5-2670","FPGA"], "range": ["#333","black","#222","black","black"]},
                   "legend": {"title": null, "orient": "top-left", "offset": 5, "padding": 6, "strokeColor": "#888", "fillColor": "white", "symbolSize": 100, "symbolStrokeWidth": 1, "symbolOpacity": 1, "symbolOffset": 21.5, "labelOffset": 24, "labelFont": "DejaVu Sans", "labelFontSize": 14, "labelColor": "black", "rowPadding": 2}}
        }}
      ]}
    ]}
   ]
  },
  {"width": 11, "height": 679, "data": {"values": [{"pos": 1}]}, "mark": {"type": "rule", "color": "#888", "strokeWidth": 1}, "encoding": {"x": {"field": "pos", "type": "quantitative", "scale": {"domain": [0, 1]}, "axis": null}}},
  {
   "spacing": 14,
   "title": {"text": "Hyper-threaded", "orient": "bottom", "font": "Liberation Sans", "fontSize": 36, "fontStyle": "italic", "fontWeight": "normal", "anchor": "middle", "dx": -23, "offset": 24},
   "vconcat": [
    {"spacing": 33, "hconcat": [
     {"width": 256, "height": 230, "title": {"text": "Theta Oscillations (6 Hz)", "style": "panel", "offset": 5}, "data": {"name": "RT"},
      "encoding": {
       "x": {"field": "size", "type": "quantitative", "scale": {"domain": [0, 15000], "nice": false}, "axis": {"values": [0,2000,4000,6000,8000,10000,12000,14000], "format": "d", "labelExpr": "datum.value % 4000 === 0 ? datum.label : ''", "title": "Network size"}},
       "y": {"field": "time", "type": "quantitative", "scale": {"domain": [0, 12], "nice": false}, "axis": {"values": [0,2,4,6,8,10,12], "title": "Execution time (s)"}}
      },
      "layer": [
       {"mark": {"type": "line", "color": "#222", "strokeWidth": 1}, "encoding": {"detail": {"field": "series", "type": "nominal"}}},
       {"mark": {"type": "point", "filled": true, "opacity": 1, "size": 110, "strokeWidth": 1},
        "encoding": {
         "shape": {"field": "series", "type": "nominal", "scale": {"domain": ["Phi 7210F","E5-2650v4","E5-2650v3","E5-2670","FPGA"], "range": ["M-0.65,-0.65H0.65V0.65H-0.65Z","M0,-0.85L0.85,0L0,0.85L-0.85,0Z","M-0.95,-0.55L0.95,-0.55L0,1.1Z","M-1.3,-1.3L1.3,1.3M-1.3,1.3L1.3,-1.3","circle"]}, "legend": null},
         "fill": {"field": "series", "type": "nominal", "scale": {"domain": ["Phi 7210F","E5-2650v4","E5-2650v3","E5-2670","FPGA"], "range": ["white","white","white","white","black"]}, "legend": null},
         "stroke": {"field": "series", "type": "nominal", "scale": {"domain": ["Phi 7210F","E5-2650v4","E5-2650v3","E5-2670","FPGA"], "range": ["#555","#111","#333","#111","black"]}, "legend": null}
        }}
      ]},
     {"width": 256, "height": 230, "title": {"text": "Beta Oscillations (23 Hz)", "style": "panel", "offset": 5}, "data": {"name": "RB"},
      "encoding": {
       "x": {"field": "size", "type": "quantitative", "scale": {"domain": [0, 15000], "nice": false}, "axis": {"values": [0,2000,4000,6000,8000,10000,12000,14000], "format": "d", "labelExpr": "datum.value % 4000 === 0 ? datum.label : ''", "title": "Network size"}},
       "y": {"field": "time", "type": "quantitative", "scale": {"domain": [0, 40], "nice": false}, "axis": {"values": [0,10,20,30,40], "title": "Execution time (s)"}}
      },
      "layer": [
       {"mark": {"type": "line", "color": "#222", "strokeWidth": 1}, "encoding": {"detail": {"field": "series", "type": "nominal"}}},
       {"mark": {"type": "point", "filled": true, "opacity": 1, "size": 110, "strokeWidth": 1},
        "encoding": {
         "shape": {"field": "series", "type": "nominal", "scale": {"domain": ["Phi 7210F","E5-2650v4","E5-2650v3","E5-2670","FPGA"], "range": ["M-0.65,-0.65H0.65V0.65H-0.65Z","M0,-0.85L0.85,0L0,0.85L-0.85,0Z","M-0.95,-0.55L0.95,-0.55L0,1.1Z","M-1.3,-1.3L1.3,1.3M-1.3,1.3L1.3,-1.3","circle"]}, "legend": null},
         "fill": {"field": "series", "type": "nominal", "scale": {"domain": ["Phi 7210F","E5-2650v4","E5-2650v3","E5-2670","FPGA"], "range": ["white","white","white","white","black"]}, "legend": null},
         "stroke": {"field": "series", "type": "nominal", "scale": {"domain": ["Phi 7210F","E5-2650v4","E5-2650v3","E5-2670","FPGA"], "range": ["#555","#111","#333","#111","black"]}, "legend": null}
        }}
      ]}
    ]},
    {"spacing": 16, "hconcat": [
     {"width": 258, "height": 230, "title": {"text": "Alpha Oscillations (10 Hz)", "style": "panel", "offset": 5}, "data": {"name": "RA"},
      "encoding": {
       "x": {"field": "size", "type": "quantitative", "scale": {"domain": [0, 15000], "nice": false}, "axis": {"values": [0,2000,4000,6000,8000,10000,12000,14000], "format": "d", "labelExpr": "datum.value % 4000 === 0 ? datum.label : ''", "title": "Network size"}},
       "y": {"field": "time", "type": "quantitative", "scale": {"domain": [0, 20], "nice": false}, "axis": {"values": [0,5,10,15,20], "title": "Execution time (s)"}}
      },
      "layer": [
       {"mark": {"type": "line", "color": "#222", "strokeWidth": 1}, "encoding": {"detail": {"field": "series", "type": "nominal"}}},
       {"mark": {"type": "point", "filled": true, "opacity": 1, "size": 110, "strokeWidth": 1},
        "encoding": {
         "shape": {"field": "series", "type": "nominal", "scale": {"domain": ["Phi 7210F","E5-2650v4","E5-2650v3","E5-2670","FPGA"], "range": ["M-0.65,-0.65H0.65V0.65H-0.65Z","M0,-0.85L0.85,0L0,0.85L-0.85,0Z","M-0.95,-0.55L0.95,-0.55L0,1.1Z","M-1.3,-1.3L1.3,1.3M-1.3,1.3L1.3,-1.3","circle"]}, "legend": null},
         "fill": {"field": "series", "type": "nominal", "scale": {"domain": ["Phi 7210F","E5-2650v4","E5-2650v3","E5-2670","FPGA"], "range": ["white","white","white","white","black"]}, "legend": null},
         "stroke": {"field": "series", "type": "nominal", "scale": {"domain": ["Phi 7210F","E5-2650v4","E5-2650v3","E5-2670","FPGA"], "range": ["#555","#111","#333","#111","black"]}, "legend": null}
        }}
      ]},
     {"width": 250, "height": 230, "title": {"text": "Gamma Oscillations (71 Hz)", "style": "panel", "offset": 5},
      "encoding": {
       "x": {"field": "size", "type": "quantitative", "scale": {"domain": [0, 15000], "nice": false}, "axis": {"values": [0,2000,4000,6000,8000,10000,12000,14000], "format": "d", "labelExpr": "datum.value % 4000 === 0 ? datum.label : ''", "title": "Network size"}},
       "y": {"field": "time", "type": "quantitative", "scale": {"domain": [0, 100], "nice": false}, "axis": {"values": [0,20,40,60,80,100], "title": "Execution time (s)"}}
      },
      "resolve": {"scale": {"shape": "independent", "fill": "independent", "stroke": "independent"}},
      "layer": [
       {"data": {"name": "RG"}, "mark": {"type": "line", "color": "#222", "strokeWidth": 1}, "encoding": {"detail": {"field": "series", "type": "nominal"}}},
       {"data": {"name": "RG"}, "mark": {"type": "point", "filled": true, "opacity": 1, "size": 110, "strokeWidth": 1},
        "encoding": {
         "shape": {"field": "series", "type": "nominal", "scale": {"domain": ["Phi 7210F","E5-2650v4","E5-2650v3","E5-2670","FPGA"], "range": ["M-0.65,-0.65H0.65V0.65H-0.65Z","M0,-0.85L0.85,0L0,0.85L-0.85,0Z","M-0.95,-0.55L0.95,-0.55L0,1.1Z","M-1.3,-1.3L1.3,1.3M-1.3,1.3L1.3,-1.3","circle"]}, "legend": null},
         "fill": {"field": "series", "type": "nominal", "scale": {"domain": ["Phi 7210F","E5-2650v4","E5-2650v3","E5-2670","FPGA"], "range": ["white","white","white","white","black"]}, "legend": null},
         "stroke": {"field": "series", "type": "nominal", "scale": {"domain": ["Phi 7210F","E5-2650v4","E5-2650v3","E5-2670","FPGA"], "range": ["#555","#111","#333","#111","black"]}, "legend": null}
        }},
       {"data": {"name": "series_list"}, "transform": [{"filter": "false"}],
        "mark": {"type": "point", "filled": true, "opacity": 1, "size": 100, "strokeWidth": 1},
        "encoding": {
         "x": {"value": 0}, "y": {"value": 0},
         "shape": {"field": "series", "type": "nominal", "scale": {"domain": ["Phi 7210F","E5-2650v4","E5-2650v3","E5-2670","FPGA"], "range": ["M-5.4,0H-0.5M0.5,0H5.4M-0.5,-0.5H0.5V0.5H-0.5Z","M-5.4,0H-0.9M0.9,0H5.4M0,-0.9L0.9,0L0,0.9L-0.9,0Z","M-5.4,0H-0.58M0.58,0H5.4M-0.9,-0.55L0.9,-0.55L0,1Z","M-5.4,0H5.4M-1.1,-1.1L1.1,1.1M-1.1,1.1L1.1,-1.1","M-5.4,0H5.4M1.2,0L1.109,0.459L0.849,0.849L0.459,1.109L0,1.2L-0.459,1.109L-0.849,0.849L-1.109,0.459L-1.2,0L-1.109,-0.459L-0.849,-0.849L-0.459,-1.109L0,-1.2L0.459,-1.109L0.849,-0.849L1.109,-0.459Z"]},
                   "legend": {"title": null, "orient": "top-left", "offset": 5, "padding": 6, "strokeColor": "#888", "fillColor": "white", "symbolSize": 100, "symbolStrokeWidth": 1, "symbolOpacity": 1, "symbolOffset": 21.5, "labelOffset": 24, "labelFont": "DejaVu Sans", "labelFontSize": 14, "labelColor": "black", "rowPadding": 2}},
         "fill": {"field": "series", "type": "nominal", "scale": {"domain": ["Phi 7210F","E5-2650v4","E5-2650v3","E5-2670","FPGA"], "range": ["white","white","white","white","black"]},
                   "legend": {"title": null, "orient": "top-left", "offset": 5, "padding": 6, "strokeColor": "#888", "fillColor": "white", "symbolSize": 100, "symbolStrokeWidth": 1, "symbolOpacity": 1, "symbolOffset": 21.5, "labelOffset": 24, "labelFont": "DejaVu Sans", "labelFontSize": 14, "labelColor": "black", "rowPadding": 2}},
         "stroke": {"field": "series", "type": "nominal", "scale": {"domain": ["Phi 7210F","E5-2650v4","E5-2650v3","E5-2670","FPGA"], "range": ["#333","black","#222","black","black"]},
                   "legend": {"title": null, "orient": "top-left", "offset": 5, "padding": 6, "strokeColor": "#888", "fillColor": "white", "symbolSize": 100, "symbolStrokeWidth": 1, "symbolOpacity": 1, "symbolOffset": 21.5, "labelOffset": 24, "labelFont": "DejaVu Sans", "labelFontSize": 14, "labelColor": "black", "rowPadding": 2}}
        }}
      ]}
    ]}
   ]
  }
 ]
}
